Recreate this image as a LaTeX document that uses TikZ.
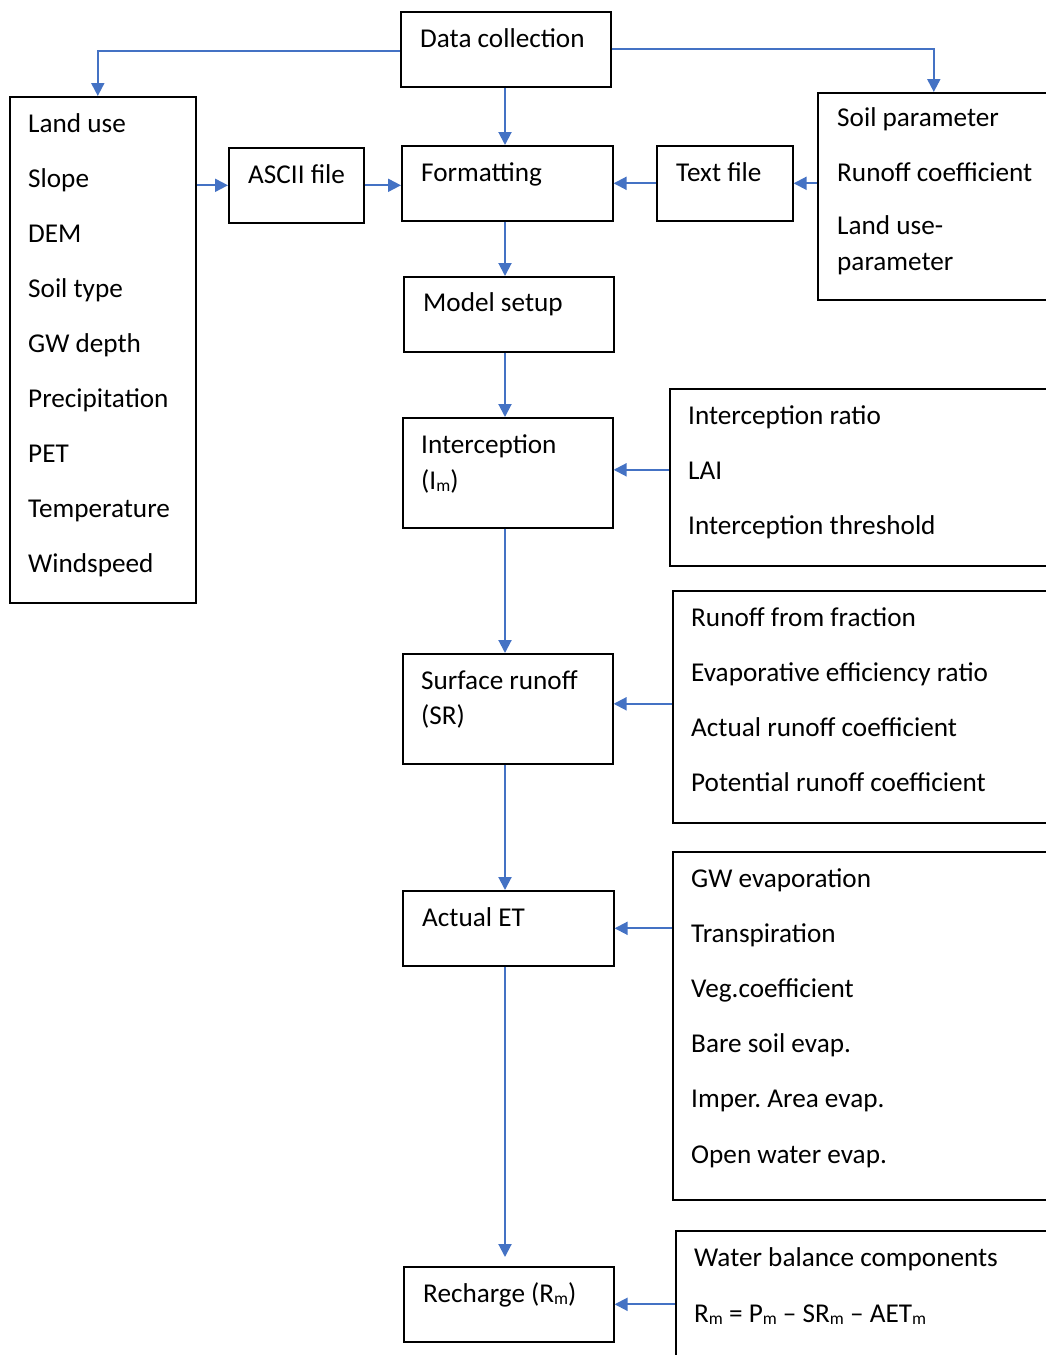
\documentclass[tikz,border=0pt]{standalone}
\usepackage{fontspec}
\setmainfont{Carlito}
\usetikzlibrary{arrows.meta}
\definecolor{flow}{HTML}{4472C4}
\newcommand\lw[1]{\raisebox{-2.5pt}{\fontsize{17.5}{17.5}\selectfont #1}}
\tikzset{
  box/.style={draw, line width=1.6pt, anchor=north west, inner sep=0pt},
  txt/.style={anchor=base west, inner sep=0pt},
  flw/.style={draw=flow, line width=2pt, -{Triangle[length=13pt,width=13pt]}},
}
\begin{document}
\frenchspacing
\begin{tikzpicture}[x=1pt, y=-1pt, font=\fontsize{27.2}{32}\selectfont]
\useasboundingbox (0,0) rectangle (1046,1355);
\clip (0,0) rectangle (1046,1355);
\coordinate (spine) at (505,0);
% centre column
\node[box, minimum width=210, minimum height=75] (dc) at (400,11) {};
\node[box, minimum width=211, minimum height=75] (form) at (401,145) {};
\node[box, minimum width=210, minimum height=75] (ms) at (403,276) {};
\node[box, minimum width=210, minimum height=110] (ic) at (402,417) {};
\node[box, minimum width=210, minimum height=110] (sr) at (402,653) {};
\node[box, minimum width=211, minimum height=75] (et) at (402,890) {};
\node[box, minimum width=210, minimum height=75] (rc) at (403,1266) {};
\node[txt] (dct) at (420,47) {Data collection};
\node[txt] (formt) at (421,181) {Formatting};
\node[txt] (mst) at (423,311) {Model setup};
\node[txt] (ict1) at (421,453) {Interception};
\node[txt] (ict2) at (421,489) {(I\lw{m})};
\node[txt] (srt1) at (421,689) {Surface runoff};
\node[txt] (srt2) at (421,724) {(SR)};
\node[txt] (ett) at (422,926) {Actual ET};
\node[txt] (rct) at (423,1302) {Recharge (R\lw{m})};
% files
\node[box, minimum width=135, minimum height=75] (ascii) at (228,147) {};
\node[box, minimum width=136, minimum height=75] (tf) at (656,145) {};
\node[txt] (asciit) at (248,183) {ASCII file};
\node[txt] (tft) at (676,181) {Text file};
% input lists
\node[box, minimum width=186, minimum height=506] (lu) at (9,96) {};
\node[box, minimum width=232, minimum height=207] (soil) at (817,92) {};
\node[box, minimum width=380, minimum height=177] (icr) at (669,388) {};
\node[box, minimum width=377, minimum height=232] (ro) at (672,590) {};
\node[box, minimum width=377, minimum height=348] (gw) at (672,851) {};
\node[box, minimum width=374, minimum height=140] (wb) at (675,1230) {};
\foreach \word [count=\i] in {Land use,Slope,DEM,Soil type,GW depth,Precipitation,PET,Temperature,Windspeed}
  \node[txt] (lu\i) at (28,{132+55.1*(\i-1)}) {\word};
\foreach \yb/\word [count=\i] in {126/Soil parameter,181/Runoff coefficient,234/Land use-,270/parameter}
  \node[txt] (soil\i) at (837,\yb) {\word};
\foreach \word [count=\i] in {Interception ratio,LAI,Interception threshold}
  \node[txt] (icr\i) at (688,{424+55*(\i-1)}) {\word};
\foreach \word [count=\i] in {Runoff from fraction,Evaporative efficiency ratio,Actual runoff coefficient,Potential runoff coefficient}
  \node[txt] (ro\i) at (691,{626+55*(\i-1)}) {\word};
\foreach \word [count=\i] in {GW evaporation,Transpiration,Veg.coefficient,Bare soil evap.,Imper. Area evap.,Open water evap.}
  \node[txt] (gw\i) at (691,{887+55.2*(\i-1)}) {\word};
\node[txt] (wb1) at (694,1266) {Water balance components};
\node[txt] (wb2) at (694,1322) {R\lw{m} = P\lw{m} -- SR\lw{m} -- AET\lw{m}};
% connectors
\draw[flw] ([yshift=-2]dc.west) -| ([xshift=-5]lu.north);
\draw[flw] (dc.east) -| (soil.north);
\draw[flw] (dc.south -| spine) -- (form.north -| spine);
\draw[flw] (ascii.west -| lu.east) -- (ascii.west);
\draw[flw] (ascii.east) -- (ascii.east -| form.west);
\draw[flw] (tf.west) -- (form.east);
\draw[flw] (tf.east -| soil.west) -- (tf.east);
\draw[flw] (form.south -| spine) -- (ms.north -| spine);
\draw[flw] (ms.south -| spine) -- (ic.north -| spine);
\draw[flw] ([yshift=3]icr.west |- ic.east) -- ([yshift=3]ic.east);
\draw[flw] (ic.south -| spine) -- (sr.north -| spine);
\draw[flw] ([yshift=5]ro.west |- sr.east) -- ([yshift=5]sr.east);
\draw[flw] (sr.south -| spine) -- (et.north -| spine);
\draw[flw] (gw.west |- et.east) -- (et.east);
\draw[flw, shorten >=9pt] (et.south -| spine) -- (rc.north -| spine);
\draw[flw] (wb.west |- rc.east) -- (rc.east);
\end{tikzpicture}
\end{document}
